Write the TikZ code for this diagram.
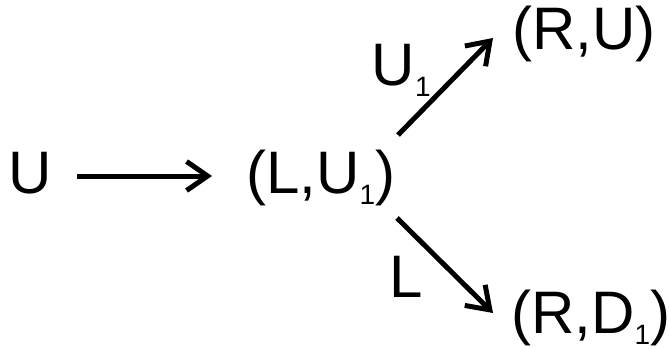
\documentclass[tikz,border=0pt]{standalone}
\usepackage{fontspec}
\setmainfont{Liberation Sans}
\usetikzlibrary{arrows.meta}
\newcommand{\subone}{\raisebox{-11pt}{\fontsize{28}{28}\selectfont 1}}
\tikzset{
  lbl/.style={anchor=base west, inner sep=0pt, font=\fontsize{60}{62}\selectfont},
  arr/.style={line width=5pt, -{Straight Barb[length=21pt,width=29pt,line width=5pt]}}
}
\begin{document}
\begin{tikzpicture}[x=1pt,y=1pt]
\useasboundingbox (0,0) rectangle (669,349);
\node[lbl] (U) at (8,156) {U};
\node[lbl] (LU) at (246,156) {(L,U\subone)};
\node[lbl] (RU) at (512,300) {(R,U)};
\node[lbl] (RD) at (511,16) {(R,D\subone)};
\node[lbl] (lu1) at (371.5,264) {U\subone};
\node[lbl] (ll) at (389,52) {L};
\draw[arr] ([shift={(69pt,17pt)}]U.base west) -- ([shift={(-34pt,17pt)}]LU.base west);
\draw[arr] ([shift={(152pt,58pt)}]LU.base west) -- ([shift={(-19pt,11pt)}]RU.base west);
\draw[arr] ([shift={(151pt,-25pt)}]LU.base west) -- ([shift={(-18pt,20pt)}]RD.base west);
\end{tikzpicture}
\end{document}
